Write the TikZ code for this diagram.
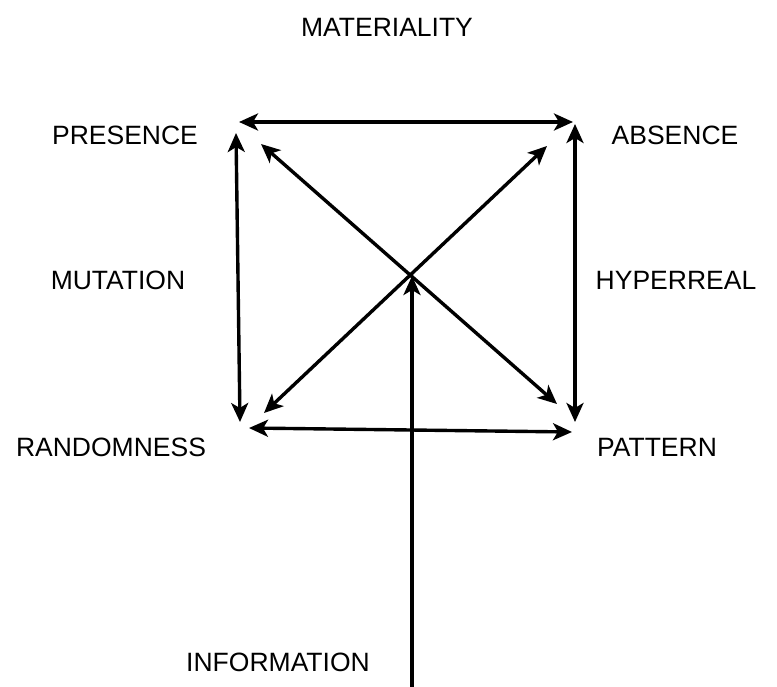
\documentclass[tikz,border=0pt]{standalone}
\usepackage{fontspec}
\setmainfont{Liberation Sans}
\usetikzlibrary{arrows.meta}
\begin{document}
\begin{tikzpicture}[x=1pt,y=-1pt,
  lbl/.style={font=\fontsize{26.5}{30}\selectfont, inner sep=0pt, anchor=center},
  tip/.style={},
  link/.style={line width=3.4pt, {Stealth[length=19pt,width=17pt,inset=5pt]}-{Stealth[length=19pt,width=17pt,inset=5pt]}},
  uplink/.style={line width=3.4pt, -{Stealth[length=19pt,width=17pt,inset=5pt]}}]
\useasboundingbox (0,0) rectangle (777,687);
% labels
\node[lbl] (mat) at (387,27) {MATERIALITY};
\node[lbl] (pre) at (125,135) {PRESENCE};
\node[lbl] (abs) at (675,135) {ABSENCE};
\node[lbl] (mut) at (118,280) {MUTATION};
\node[lbl] (hyp) at (676,280) {HYPERREAL};
\node[lbl] (ran) at (111,447) {RANDOMNESS};
\node[lbl] (pat) at (657,447) {PATTERN};
\node[lbl] (inf) at (278,662) {INFORMATION};
% endpoints
\coordinate (tl) at (239,122);
\coordinate (tr) at (573,122);
\coordinate (lt) at (236,133);
\coordinate (lb) at (240,422);
\coordinate (rt) at (575,124);
\coordinate (rb) at (575,422);
\coordinate (bl) at (249,428);
\coordinate (br) at (572,432);
\coordinate (d1a) at (261,144);
\coordinate (d1b) at (557,404);
\coordinate (d2a) at (547,146);
\coordinate (d2b) at (264,413);
\coordinate (ib) at (412,687);
\coordinate (it) at (412,276);
% connectors
\draw[link] (tl) -- (tr);
\draw[link] (lt) -- (lb);
\draw[link] (rt) -- (rb);
\draw[link] (bl) -- (br);
\draw[link] (d1a) -- (d1b);
\draw[link] (d2a) -- (d2b);
\draw[uplink] (ib) -- (it);
\end{tikzpicture}
\end{document}
